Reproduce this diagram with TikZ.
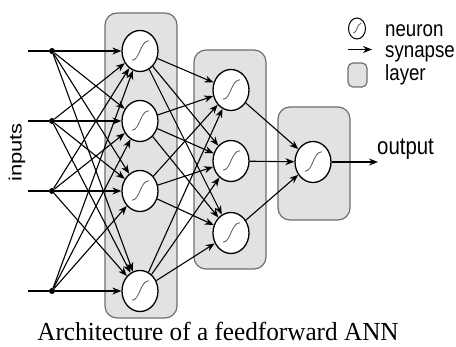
\documentclass[tikz,border=0pt]{standalone}
\usepackage{fontspec}
\setmainfont{Liberation Serif}
\newfontfamily\labelfont{Liberation Sans}
\usetikzlibrary{shapes.geometric, arrows.meta, calc}

\definecolor{layerfill}{RGB}{226,226,226}
\definecolor{layerdraw}{RGB}{110,110,110}

\tikzset{
	neuron/.style={ellipse, draw, line width=1.3pt, fill=white, inner sep=0pt,
		minimum width=36pt, minimum height=41pt,
		path picture={
			\draw[gray!70!black, line width=0.8pt]
			($(path picture bounding box.center)!0.45!(path picture bounding box.south west)$)
			.. controls ($(path picture bounding box.center)!0.45!(path picture bounding box.south)$)
			and ($(path picture bounding box.center)!0.5!(path picture bounding box.north)$)
			.. ($(path picture bounding box.center)!0.5!(path picture bounding box.north east)$);
		}},
	layer/.style={rectangle, rounded corners=12pt, draw=layerdraw, fill=layerfill, line width=1.2pt, inner sep=0pt},
	dot/.style={circle, fill=black, inner sep=0pt, minimum size=6pt},
	synapse/.style={-{Stealth[length=9pt, width=7pt]}, line width=1.1pt},
	lbl/.style={font=\labelfont\fontsize{22}{24}\selectfont, inner sep=0pt},
}

\begin{document}
\begin{tikzpicture}[x=1pt, y=-1pt]
	
	\def\xStart{28}
	\def\xIn{52}
	\def\xA{140}
	\def\xB{231}
	\def\xC{313}
	\def\yC{162}
	
	\useasboundingbox (0,0) rectangle (456,347);
	
	% ── Capas (fondo) ───────────────────────────────────────────────
	\node[layer, minimum width=72pt, minimum height=305pt] (layer1) at (141,165.5) {};
	\node[layer, minimum width=72pt, minimum height=219pt] (layer2) at (230,159.5) {};
	\node[layer, minimum width=72pt, minimum height=113pt] (layer3) at (314,163.5) {};
	
	% ── Entradas y primera capa ─────────────────────────────────────
	\foreach \yy [count=\i] in {51,121,191,291}{
		\coordinate (src\i) at (\xStart,\yy);
		\node[dot] (in\i) at (\xIn,\yy) {};
		\node[neuron] (h\i) at (\xA,\yy) {};
		\draw[line width=1.1pt] (src\i) -- (in\i);
	}
	\node[lbl, rotate=90] (inputs) at (17,152.5) {\scalebox{1}[0.81]{inputs}};
	
	% ── Segunda capa y salida ───────────────────────────────────────
	\foreach \yy [count=\j] in {90,161,233}{
		\node[neuron] (g\j) at (\xB,\yy) {};
	}
	\node[neuron] (out) at (\xC,\yC) {};
	
	% ── Sinapsis ────────────────────────────────────────────────────
	\foreach \i in {1,...,4}{
		\foreach \j in {1,...,4}{
			\draw[synapse] (in\i) -- (h\j);
		}
		\foreach \j in {1,2,3}{
			\draw[synapse] (h\i) -- (g\j);
		}
	}
	\foreach \j in {1,2,3}{
		\draw[synapse] (g\j) -- (out);
	}
	\coordinate (outEnd) at (378,\yC);
	\draw[synapse] (out) -- (outEnd);
	\node[lbl, font=\labelfont\fontsize{24}{26}\selectfont, anchor=base west] (outLbl) at (377,155) {\scalebox{0.85}[1]{output}};
	
	% ── Leyenda ─────────────────────────────────────────────────────
	\node[neuron, minimum width=17pt, minimum height=21pt, line width=1pt] (lgNeuron) at (357,28.5) {};
	\coordinate (lgSynA) at (348,49.5);
	\coordinate (lgSynB) at (372,49.5);
	\draw[synapse] (lgSynA) -- (lgSynB);
	\node[layer, rounded corners=5pt, minimum width=19pt, minimum height=24pt] (lgLayer) at (357.5,75) {};
	\node[lbl, anchor=base west] (lgNeuronTxt) at (385,36.5) {\scalebox{0.85}[1]{neuron}};
	\node[lbl, anchor=base west] (lgSynTxt) at (385,58) {\scalebox{0.85}[1]{synapse}};
	\node[lbl, anchor=base west] (lgLayerTxt) at (385,80.5) {\scalebox{0.85}[1]{layer}};
	
	% Titulo
	\node[font=\fontsize{26}{28}\selectfont, anchor=base, inner sep=0pt] (caption) at (218,341) {\scalebox{0.97}[1]{Architecture of a feedforward ANN}};
	
\end{tikzpicture}
\end{document}
